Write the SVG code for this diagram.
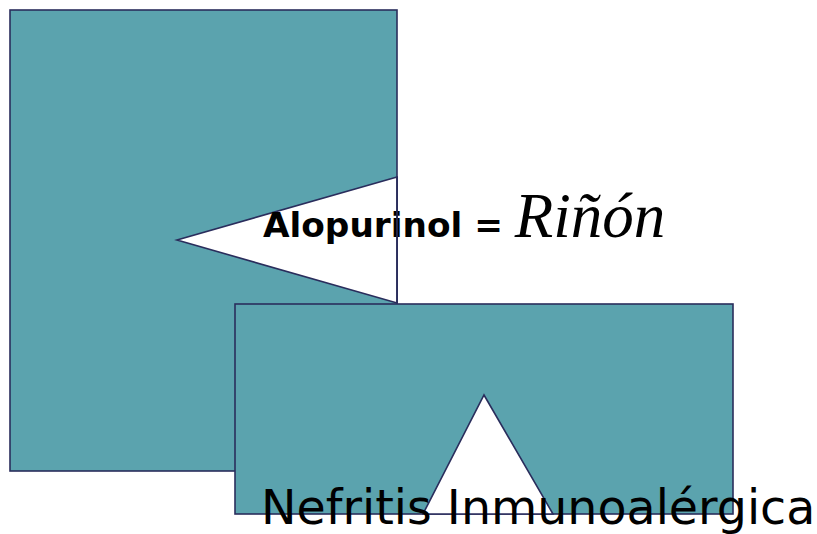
<svg xmlns="http://www.w3.org/2000/svg" width="817" height="534" viewBox="0 0 817 534">
<style>
.shape{fill:#5ba3ae;stroke:#2a2d5c;stroke-width:1.6}
.notch{fill:#ffffff;stroke:#2a2d5c;stroke-width:1.6;stroke-linejoin:miter}
.edge{fill:none;stroke:#2a2d5c;stroke-width:1.6}
.bold{font-family:"DejaVu Sans",Verdana,sans-serif;font-weight:bold;font-size:34.3px;fill:#000}
.ital{font-family:"Liberation Serif","Times New Roman",serif;font-style:italic;font-size:63px;fill:#000}
.plain{font-family:"DejaVu Sans",Verdana,sans-serif;font-size:47.5px;fill:#000}
</style>
<rect width="817" height="534" fill="#ffffff"/>
<g id="shape-left">
<rect class="shape" x="10" y="10" width="387" height="461"/>
<polygon class="notch" points="397,177 177,240 397,303"/>
</g>
<g id="label-alopurinol">
<text x="263" y="237"><tspan class="bold">Alopurinol = </tspan><tspan class="ital">Riñón</tspan></text>
</g>
<g id="connectors">
<line class="edge" x1="397" y1="177" x2="397" y2="303"/>
</g>
<g id="shape-bottom">
<rect class="shape" x="235" y="304" width="498" height="210"/>
<polygon class="notch" points="423,514 484,395 553,514"/>
</g>
<g id="label-nefritis">
<text class="plain" x="261" y="524">Nefritis Inmunoalérgica</text>
</g>
</svg>
